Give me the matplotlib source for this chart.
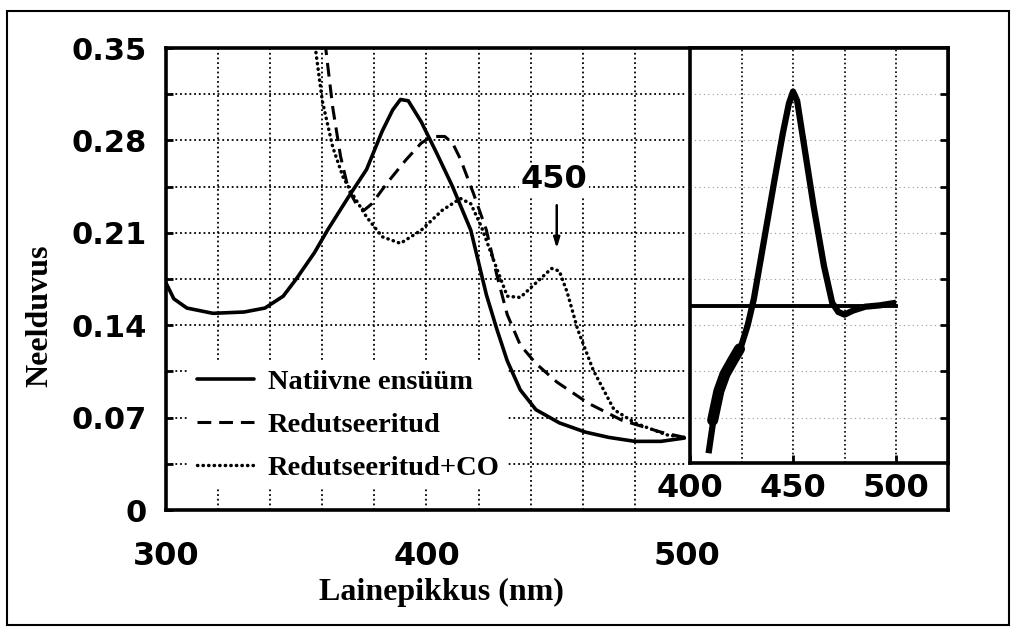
import numpy as np
import matplotlib.pyplot as plt
from matplotlib.patches import Rectangle

# ==========================================
# DATA
# ==========================================

# Natiivne ensüüm (solid)
native_nm = [300, 303, 308, 318, 330, 338, 345, 350, 357, 362, 370, 377, 383, 387,
             390, 393, 398, 404, 410, 417, 423, 427, 431, 436, 442, 451, 461, 470,
             480, 490, 499]
native_abs = [0.172, 0.160, 0.153, 0.149, 0.150, 0.153, 0.162, 0.175, 0.195, 0.212,
              0.237, 0.258, 0.287, 0.303, 0.311, 0.310, 0.294, 0.270, 0.245, 0.212,
              0.163, 0.137, 0.113, 0.091, 0.076, 0.066, 0.059, 0.055, 0.052, 0.052,
              0.0545]

# Redutseeritud (dashed)
reduced_nm = [361, 364, 367, 370, 373, 376, 379, 385, 392, 398, 402, 407, 410, 413,
              418, 423, 427, 431, 436, 442, 450, 462, 475, 490, 499]
reduced_abs = [0.355, 0.305, 0.268, 0.243, 0.232, 0.227, 0.232, 0.248, 0.265, 0.278,
               0.283, 0.283, 0.278, 0.266, 0.240, 0.212, 0.178, 0.148, 0.125, 0.111,
               0.097, 0.081, 0.068, 0.059, 0.055]

# Redutseeritud+CO (dotted)
co_nm = [357, 360, 364, 368, 372, 377, 383, 390, 398, 406, 413, 417, 421, 426, 431,
         436, 442, 448, 451, 454, 458, 464, 472, 480, 492, 499]
co_abs = [0.355, 0.310, 0.275, 0.252, 0.238, 0.222, 0.207, 0.202, 0.212, 0.227,
          0.236, 0.232, 0.215, 0.188, 0.162, 0.161, 0.172, 0.183, 0.181, 0.165,
          0.137, 0.106, 0.076, 0.066, 0.057, 0.055]

# Inset: difference spectrum (same vertical units as main scale)
diff_nm = [409, 412, 416, 421, 425, 428, 431, 436, 441, 445, 448, 450, 452, 455,
           460, 465, 469, 472, 475, 479, 485, 492, 500]
diff_val = [0.043, 0.075, 0.100, 0.115, 0.125, 0.140, 0.160, 0.205, 0.250, 0.285,
            0.308, 0.317, 0.310, 0.280, 0.230, 0.185, 0.157, 0.150, 0.148, 0.151,
            0.154, 0.155, 0.157]
diff_blob_nm = [411, 414, 417, 421, 424]
diff_blob_val = [0.068, 0.090, 0.103, 0.114, 0.122]
diff_baseline = 0.1545

y_ticks = [0, 0.07, 0.14, 0.21, 0.28, 0.35]
y_tick_labels = ["0", "0.07", "0.14", "0.21", "0.28", "0.35"]
x_ticks = [300, 400, 500]
inset_x_ticks = [400, 450, 500]

legend_labels = ["Natiivne ensüüm", "Redutseeritud", "Redutseeritud+CO"]

# ==========================================
# FIGURE
# ==========================================

SANS = "DejaVu Sans"
SERIF = "Liberation Serif"
DOT = (0, (1, 1.6))

fig = plt.figure(figsize=(10.16, 6.32), dpi=100)
fig.patches.append(Rectangle((7 / 1016, 7 / 632), 1002 / 1016, 614 / 632,
                             transform=fig.transFigure, fill=False,
                             edgecolor="black", linewidth=1.5))

ax = fig.add_axes([166 / 1016, 122 / 632, 782 / 1016, 462 / 632])
ax.set_xlim(300, 600.2)
ax.set_ylim(0, 0.35)

# grid (only over the 300-500 nm area)
for gx in range(320, 500, 20):
    ax.plot([gx, gx], [0, 0.35], color="black", lw=1.3, ls=DOT, zorder=1)
for gy in np.arange(0.035, 0.34, 0.035):
    ax.plot([300, 500], [gy, gy], color="black", lw=1.3, ls=DOT, zorder=1)

ax.plot(native_nm, native_abs, color="black", lw=2.6, solid_capstyle="round",
        label=legend_labels[0], zorder=3)
ax.plot(reduced_nm, reduced_abs, color="black", lw=2.2, ls=(0, (4.5, 2.6)),
        label=legend_labels[1], zorder=3)
ax.plot(co_nm, co_abs, color="black", lw=2.5, ls=(0, (0.1, 1.5)),
        dash_capstyle="round", label=legend_labels[2], zorder=3)

for s in ax.spines.values():
    s.set_linewidth(2.6)

ax.set_yticks(y_ticks)
ax.set_yticklabels(y_tick_labels, fontfamily=SANS, fontweight="bold", fontsize=22)
ax.set_yticks(np.arange(0.035, 0.34, 0.07), minor=True)
ax.set_xticks(x_ticks)
ax.set_xticklabels([str(v) for v in x_ticks], fontfamily=SANS, fontweight="bold",
                   fontsize=23)
ax.tick_params(axis="y", which="both", direction="in", length=5, width=2, pad=14)
ax.tick_params(axis="x", length=0, pad=22)

ax.set_xlabel("Lainepikkus (nm)", fontfamily=SERIF, fontweight="bold",
              fontsize=23)
ax.set_ylabel("Neelduvus", fontfamily=SERIF, fontweight="bold", fontsize=23)
ax.xaxis.set_label_coords(0.352, -0.148)
ax.yaxis.set_label_coords(-0.143, 0.42)

# legend sits above the grid but below the curves
leg = ax.legend(loc="upper left", bbox_to_anchor=(0.01, 0.355),
                prop={"family": SERIF, "weight": "bold", "size": 20.5},
                frameon=True, framealpha=1, facecolor="white", edgecolor="none",
                handlelength=2.0, handletextpad=0.5, labelspacing=0.6,
                borderpad=0.3, fancybox=False)
leg.set_zorder(2)

ax.annotate("", xy=(450, 0.196), xytext=(450, 0.233),
            arrowprops=dict(arrowstyle="-|>,head_length=0.6,head_width=0.18",
                        color="black", lw=1.8), zorder=4)
ax.text(449, 0.250, "450", ha="center", va="center", fontfamily=SANS,
        fontweight="bold", fontsize=23, zorder=4,
        bbox=dict(facecolor="white", edgecolor="none", pad=1))

# ==========================================
# INSET (difference spectrum)
# ==========================================

ins = fig.add_axes([690 / 1016, 169 / 632, 258 / 1016, 415 / 632])
ins.set_xlim(400, 525.2)
ins.set_ylim(0.0356, 0.35)
ins.set_zorder(6)

for gx in [425, 450, 475, 500]:
    ins.plot([gx, gx], [0.0356, 0.35], color="black", lw=1.2, ls=DOT, zorder=1)
for gy in np.arange(0.07, 0.34, 0.035):
    ins.plot([400, 525], [gy, gy], color="0.6", lw=0.8, ls=(0, (1, 3)), zorder=1)

ins.plot([400, 500], [diff_baseline, diff_baseline], color="black", lw=2.8, zorder=3)
ins.plot(diff_nm, diff_val, color="black", lw=4.5, solid_joinstyle="round",
         solid_capstyle="butt", zorder=3)
ins.plot(diff_blob_nm, diff_blob_val, color="black", lw=8.0,
         solid_capstyle="round", zorder=3)

for s in ins.spines.values():
    s.set_linewidth(2.6)

ins.set_xticks(inset_x_ticks)
ins.set_xticklabels([str(v) for v in inset_x_ticks], fontfamily=SANS,
                    fontweight="bold", fontsize=23)
ins.set_yticks(np.arange(0.07, 0.34, 0.035))
ins.tick_params(axis="x", direction="in", length=6, width=2, pad=7)
ins.tick_params(axis="y", direction="in", length=6, width=2, left=False,
                right=True, labelleft=False)

fig.savefig("out.png", dpi=100)
